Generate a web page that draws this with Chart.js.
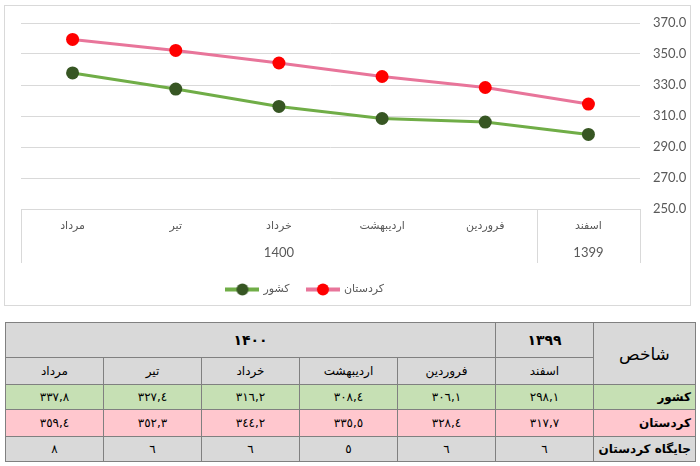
<!DOCTYPE html>
<html>
<head>
<meta charset="utf-8">
<script src="https://cdn.jsdelivr.net/npm/chart.js@4/dist/chart.umd.min.js"></script>
<style>
  body { margin: 0; background: #fff; width: 700px; height: 466px; overflow: hidden; position: relative; }
  #chartBox { position: absolute; left: 4px; top: 5px; width: 687px; height: 301px; border: 1px solid #d9d9d9; box-sizing: border-box; }
  #chartBox div { position: relative; width: 685px; height: 299px; }
  #tbl { position: absolute; left: 5px; top: 322px; border-collapse: collapse; direction: rtl;
         font-family: 'DejaVu Sans', sans-serif; font-size: 12px; color: #000; }
  #tbl td { border: 1px solid #808080; width: 97px; text-align: center; padding: 0; }
  #tbl .head td { background: #d9d9d9; }
  #tbl td.name { text-align: right; font-weight: bold; padding-right: 4px; }
</style>
</head>
<body>
<div id="chartBox"><div><canvas id="lineChart"></canvas></div></div>
<table id="tbl"></table>

<script>
// data (chronological order, first = اسفند 1399)
const months = ['اسفند', 'فروردین', 'اردیبهشت', 'خرداد', 'تیر', 'مرداد'];
const years = ['1399', '1400', '1400', '1400', '1400', '1400'];
const country = [298.1, 306.1, 308.4, 316.2, 327.4, 337.8];
const kurdistan = [317.7, 328.4, 335.5, 344.2, 352.3, 359.4];
const kurdistanRank = [6, 6, 5, 6, 6, 8];
const yTicks = [250, 270, 290, 310, 330, 350, 370];

const gridColor = '#d9d9d9';
const textColor = '#595959';

// legend marker: short line with a dot in the middle
function legendMarker(lineColor, dotColor) {
    const c = document.createElement('canvas');
    c.width = 34; c.height = 13;
    const g = c.getContext('2d');
    g.strokeStyle = lineColor; g.lineWidth = 4;
    g.beginPath(); g.moveTo(0, 6.5); g.lineTo(34, 6.5); g.stroke();
    g.fillStyle = dotColor;
    g.beginPath(); g.arc(17, 6.5, 6, 0, Math.PI * 2); g.fill();
    return c;
}
const markers = [legendMarker('#70ad47', '#375623'), legendMarker('#e8759a', '#ff0000')];

// second row of the category axis (years) + the box around it
const multiLevelAxis = {
    id: 'multiLevelAxis',
    afterLayout(chart) {
        // legend sits a bit left of centre in the original
        chart.legend.left -= 50;
        chart.legend.right -= 50;
    },
    afterDraw(chart) {
        const x = chart.scales.x;
        const ctx = chart.ctx;
        const top = chart.chartArea.bottom;
        const bottom = top + 54;
        ctx.save();
        ctx.strokeStyle = gridColor;
        ctx.lineWidth = 1;
        const vline = px => {
            ctx.beginPath(); ctx.moveTo(Math.round(px) + 0.5, top); ctx.lineTo(Math.round(px) + 0.5, bottom); ctx.stroke();
        };
        vline(chart.chartArea.left);
        vline(chart.chartArea.right);
        ctx.font = '13px Lato';
        ctx.fillStyle = textColor;
        ctx.textAlign = 'center';
        ctx.textBaseline = 'middle';
        let start = 0;
        for (let i = 1; i <= years.length; i++) {
            if (i === years.length || years[i] !== years[start]) {
                const a = x.getPixelForValue(start), b = x.getPixelForValue(i - 1);
                const half = Math.abs(x.getPixelForValue(1) - x.getPixelForValue(0)) / 2;
                const l = Math.min(a, b) - half, r = Math.max(a, b) + half;
                ctx.fillText(years[start], (l + r) / 2, top + 44);
                if (i < years.length) {
                    vline((x.getPixelForValue(i - 1) + x.getPixelForValue(i)) / 2);
                }
                start = i;
            }
        }
        ctx.restore();
    }
};

const ctx = document.getElementById('lineChart').getContext('2d');
const lineChart = new Chart(ctx, {
    type: 'line',
    data: {
        labels: months,
        datasets: [{
            label: 'کشور',
            data: country,
            borderColor: '#70ad47',
            borderWidth: 3,
            pointRadius: 6.5,
            pointBackgroundColor: '#375623',
            pointBorderColor: '#375623',
            pointBorderWidth: 0
        }, {
            label: 'کردستان',
            data: kurdistan,
            borderColor: '#e8759a',
            borderWidth: 3,
            pointRadius: 6.5,
            pointBackgroundColor: '#ff0000',
            pointBorderColor: '#ff0000',
            pointBorderWidth: 0
        }]
    },
    options: {
        responsive: true,
        maintainAspectRatio: false,
        animation: false,
        layout: { padding: { left: 16, top: 17, right: 0, bottom: 0 } },
        scales: {
            x: {
                reverse: true,
                offset: true,
                grid: { display: false, drawTicks: false },
                border: { display: false },
                ticks: {
                    padding: 11,
                    color: textColor,
                    font: { family: "'DejaVu Sans', sans-serif", size: 11 },
                    maxRotation: 0
                },
                afterFit: s => { s.height = 57; }
            },
            y: {
                position: 'right',
                min: 250,
                max: 370,
                afterBuildTicks: s => { s.ticks = yTicks.map(v => ({ value: v })); },
                grid: { color: gridColor, lineWidth: 1, drawTicks: false },
                border: { display: false },
                ticks: {
                    padding: 13,
                    color: textColor,
                    font: { family: 'Lato', size: 13 },
                    callback: v => v.toFixed(1)
                },
                afterFit: s => { s.width = 50; s.paddingTop = 0; s.paddingBottom = 0; }
            }
        },
        plugins: {
            tooltip: { enabled: false },
            legend: {
                position: 'bottom',
                maxHeight: 40,
                labels: {
                    usePointStyle: true,
                    pointStyleWidth: 31,
                    padding: 18,
                    color: textColor,
                    font: { family: "'DejaVu Sans', sans-serif", size: 11 },
                    generateLabels: chart => Chart.defaults.plugins.legend.labels.generateLabels(chart)
                        .map((item, i) => Object.assign(item, { pointStyle: markers[i] }))
                }
            }
        }
    },
    plugins: [multiLevelAxis]
});

// table under the chart, built from the same arrays
const arabicDigits = s => String(s).replace(/\d/g, d => '٠١٢٣٤٥٦٧٨٩'[d]).replace('.', ',');
const persianDigits = s => String(s).replace(/\d/g, d => '۰۱۲۳۴۵۶۷۸۹'[d]);

let html = '<tr class="head" style="height:35px"><td rowspan="2" style="font-size:17px">شاخص</td>';
let start = 0;
for (let i = 1; i <= years.length; i++) {
    if (i === years.length || years[i] !== years[start]) {
        html += `<td colspan="${i - start}" style="font-weight:bold;font-size:14px">${persianDigits(years[start])}</td>`;
        start = i;
    }
}
html += '</tr><tr class="head" style="height:27px">' + months.map(m => `<td>${m}</td>`).join('') + '</tr>';
html += '<tr style="height:25px;background:#c6e0b4"><td class="name">کشور</td>' +
    country.map(v => `<td>${arabicDigits(v.toFixed(1))}</td>`).join('') + '</tr>';
html += '<tr style="height:27px;background:#ffc7ce"><td class="name">کردستان</td>' +
    kurdistan.map(v => `<td>${arabicDigits(v.toFixed(1))}</td>`).join('') + '</tr>';
html += '<tr style="height:25px;background:#d9d9d9"><td class="name">جایگاه کردستان</td>' +
    kurdistanRank.map(v => `<td>${arabicDigits(v)}</td>`).join('') + '</tr>';
document.getElementById('tbl').innerHTML = html;
</script>
</body>
</html>
